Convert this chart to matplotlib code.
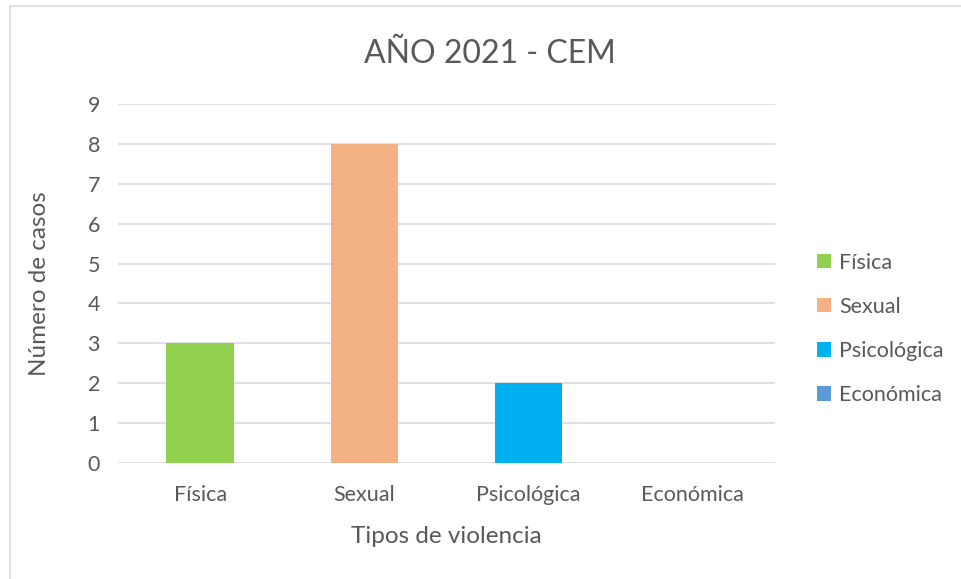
import matplotlib
matplotlib.use("Agg")
import matplotlib.pyplot as plt
from matplotlib.patches import Rectangle

# Datos del gráfico
categorias = ["Física", "Sexual", "Psicológica", "Económica"]
casos = [3, 8, 2, 0]
colores = ["#92D050", "#F4B183", "#00B0F0", "#5B9BD5"]
yticks = list(range(0, 10))

plt.rcParams['font.family'] = ['Lato', 'DejaVu Sans']
gris = "#595959"

fig = plt.figure(figsize=(9.61, 5.79), dpi=100)
ax = fig.add_axes([0.1228, 0.2003, 0.6837, 0.6200])

# Una serie por tipo, para la leyenda
barras = []
for i, (cat, val, col) in enumerate(zip(categorias, casos, colores)):
    b = ax.bar(i, val, width=0.41, color=col, label=cat, zorder=3)
    barras.append(b)

ax.set_xlim(-0.5, len(categorias) - 0.5)
ax.set_ylim(0, 9)
ax.set_yticks(yticks)
ax.set_xticks(range(len(categorias)))
ax.set_xticklabels(categorias)
ax.yaxis.grid(True, color="#D9D9D9", linewidth=1.1, zorder=0)
ax.set_axisbelow(True)
for s in ax.spines.values():
    s.set_visible(False)
ax.tick_params(axis="both", length=0, colors=gris, labelsize=15.5)
ax.tick_params(axis="y", pad=13)
ax.tick_params(axis="x", pad=16)

ax.set_xlabel("Tipos de violencia", fontsize=17.5, color=gris, labelpad=15)
ax.set_ylabel("Número de casos", fontsize=17.5, color=gris, labelpad=27)

fig.text(0.51, 0.906, "AÑO 2021 - CEM", ha="center", va="center",
         fontsize=23, color=gris)

fig.legend(handles=barras, labels=categorias, loc="upper left",
           bbox_to_anchor=(0.8305, 0.597), frameon=False, fontsize=15.5,
           labelcolor=gris, handlelength=0.65, handleheight=0.65,
           handletextpad=0.35, labelspacing=1.12)

# marco del área del gráfico
fig.patches.append(Rectangle((10 / 961, -0.1), 1.2, 1 - 6 / 579 + 0.1,
                             transform=fig.transFigure, fill=False,
                             edgecolor="#D9D9D9", linewidth=1.2))

fig.savefig("out.png", dpi=100)
